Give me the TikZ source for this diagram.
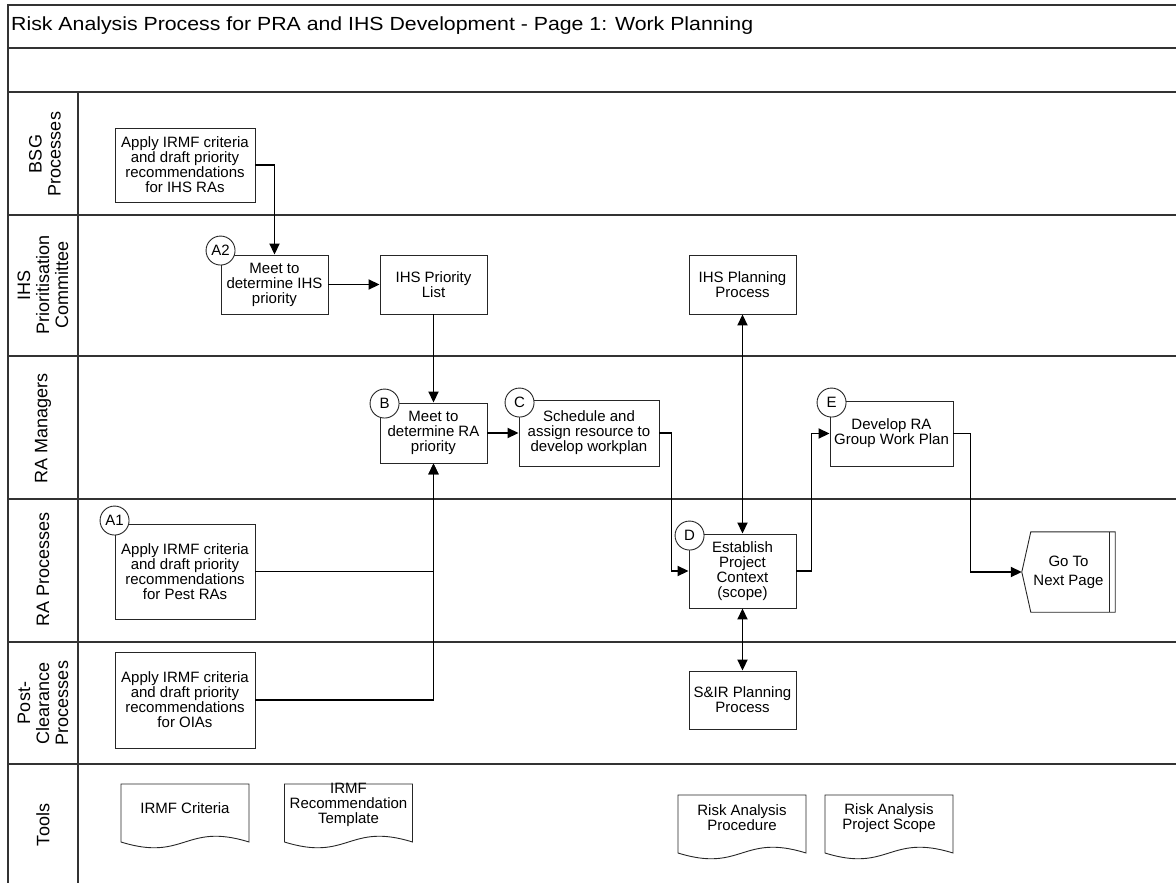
\documentclass[tikz,border=0pt]{standalone}
\usepackage{fontspec}
\setmainfont{Liberation Sans}
\usetikzlibrary{arrows.meta,calc}
\newcommand\docpath[1]{\draw[docshape] ([shift={(-64,-29)}]#1) -- ([shift={(64,-29)}]#1) -- ([shift={(64,29)}]#1) .. controls +(-64,-20) and +(64,20) .. ([shift={(-64,29)}]#1) -- cycle;}
\begin{document}
\begin{tikzpicture}[x=1pt,y=-1pt,
 lane/.style={draw=black!80, line width=1.6pt},
 proc/.style={draw=black!85, line width=0.9pt, fill=white, align=center, inner sep=1pt, font=\fontsize{15}{15}\selectfont},
 tag/.style={circle, draw=black!85, line width=0.9pt, fill=white, minimum size=29pt, inner sep=0pt, font=\fontsize{15}{15}\selectfont},
 conn/.style={line width=1.8pt, -{Triangle[length=11pt,width=10pt]}},
 bconn/.style={line width=1.8pt, {Triangle[length=11pt,width=10pt]}-{Triangle[length=11pt,width=10pt]}},
 lanelab/.style={rotate=90, align=center, font=\fontsize{18}{19}\selectfont},
 doctext/.style={align=center, inner sep=0pt, font=\fontsize{15}{15}\selectfont},
 docshape/.style={draw=black!85, line width=0.9pt}
]
\useasboundingbox (0,0) rectangle (1176,883);
% frame and lanes
\draw[lane] (8,883) -- (8,5) -- (1176,5);
\draw[lane] (8,48) -- (1176,48);
\foreach \yy in {92,215,356,499,642,764} {\draw[lane] (8,\yy) -- (1176,\yy);}
\draw[lane] (78,92) -- (78,883);
% title
\node[anchor=west, inner sep=0pt, xscale=1.12, font=\fontsize{19}{20}\selectfont] (title) at (11,26) {Risk Analysis Process for PRA and IHS Development - Page 1: Work Planning};
% lane labels
\node[lanelab] (lab1) at (45,154) {BSG\\Processes};
\node[lanelab] (lab2) at (43,285) {IHS\\Prioritisation\\Committee};
\node[lanelab] (lab3) at (43,428) {RA Managers};
\node[lanelab] (lab4) at (43,569) {RA Processes};
\node[lanelab] (lab5) at (43,703) {Post-\\Clearance\\Processes};
\node[lanelab] (lab6) at (43,825) {Tools};
% process boxes
\node[proc, minimum width=140pt, minimum height=74pt] (bsg) at (185,165) {Apply IRMF criteria\\and draft priority\\recommendations\\for IHS RAs};
\node[proc, minimum width=107pt, minimum height=59pt] (meetihs) at (274.5,284.5) {Meet to\\determine IHS\\priority};
\node[proc, minimum width=107pt, minimum height=59pt] (ihslist) at (433.5,284.5) {IHS Priority\\List};
\node[proc, minimum width=107pt, minimum height=60pt] (meetra) at (433.5,433) {Meet to\\determine RA\\priority};
\node[proc, minimum width=140pt, minimum height=66pt] (sched) at (589,433) {Schedule and\\assign resource to\\develop workplan};
\node[proc, minimum width=107pt, minimum height=59pt] (ihsplan) at (742.5,284.5) {IHS Planning\\Process};
\node[proc, minimum width=123pt, minimum height=65pt] (devra) at (891.5,433.5) {Develop RA\\Group Work Plan};
\node[proc, minimum width=140pt, minimum height=95pt] (pest) at (185,571.5) {Apply IRMF criteria\\and draft priority\\recommendations\\for Pest RAs};
\node[proc, minimum width=107pt, minimum height=74pt] (establish) at (742.5,571) {Establish\\Project\\Context\\(scope)};
\node[proc, minimum width=140pt, minimum height=96pt] (oia) at (185,700) {Apply IRMF criteria\\and draft priority\\recommendations\\for OIAs};
\node[proc, minimum width=107pt, minimum height=58pt] (sir) at (742.5,700) {S\&IR Planning\\Process};
% off-page connector
\node[doctext, minimum width=93pt, minimum height=80pt, font=\fontsize{15}{19}\selectfont] (gonext) at (1068.5,572) {Go To\\Next Page};
\draw[docshape] (gonext.west) -- ([xshift=9pt]gonext.north west) -- (gonext.north east) -- (gonext.south east) -- ([xshift=9pt]gonext.south west) -- cycle;
\draw[docshape] ([xshift=-6pt]gonext.north east) -- ([xshift=-6pt]gonext.south east);
% connectors
\draw[conn] (bsg.east) -| (meetihs.north);
\draw[conn] (meetihs.east) -- (ihslist.west);
\draw[conn] (ihslist.south) -- (meetra.north);
\draw[conn] (meetra.east) -- (sched.west);
\draw[conn] (sched.east) -- ++(12,0) |- (establish.west);
\draw[bconn] (ihsplan.south) -- (establish.north);
\draw[conn] (establish.east) -- ++(15,0) |- (devra.west);
\draw[conn] (devra.east) -- ++(17,0) |- (gonext.west);
\draw[conn] (pest.east) -| (meetra.south);
\draw[conn] (oia.east) -| (meetra.south);
\draw[bconn] (establish.south) -- (sir.north);
% step tags
\node[tag] (ta2) at ([shift={(0,-4)}]meetihs.north west) {A2};
\node[tag] (tb) at ([shift={(5,1)}]meetra.north west) {B};
\node[tag] (tc) at ([shift={(1,3)}]sched.north west) {C};
\node[tag] (te) at ([shift={(2,2)}]devra.north west) {E};
\node[tag] (td) at ([shift={(1,2)}]establish.north west) {D};
\node[tag] (ta1) at ([shift={(0,-3)}]pest.north west) {A1};
% tools (documents)
\coordinate (d1) at (185,813);
\coordinate (d2) at (348.5,813);
\coordinate (d3) at (742,824);
\coordinate (d4) at (889,824);
\docpath{d1}
\docpath{d2}
\docpath{d3}
\docpath{d4}
\node[doctext] (irmfc) at (185,808) {IRMF Criteria};
\node[doctext] (irmft) at (348.5,805) {IRMF\\Recommendation\\Template};
\node[doctext] (rap) at (742,818) {Risk Analysis\\Procedure};
\node[doctext] (raps) at (889,818) {Risk Analysis\\Project Scope};
\end{tikzpicture}
\end{document}
